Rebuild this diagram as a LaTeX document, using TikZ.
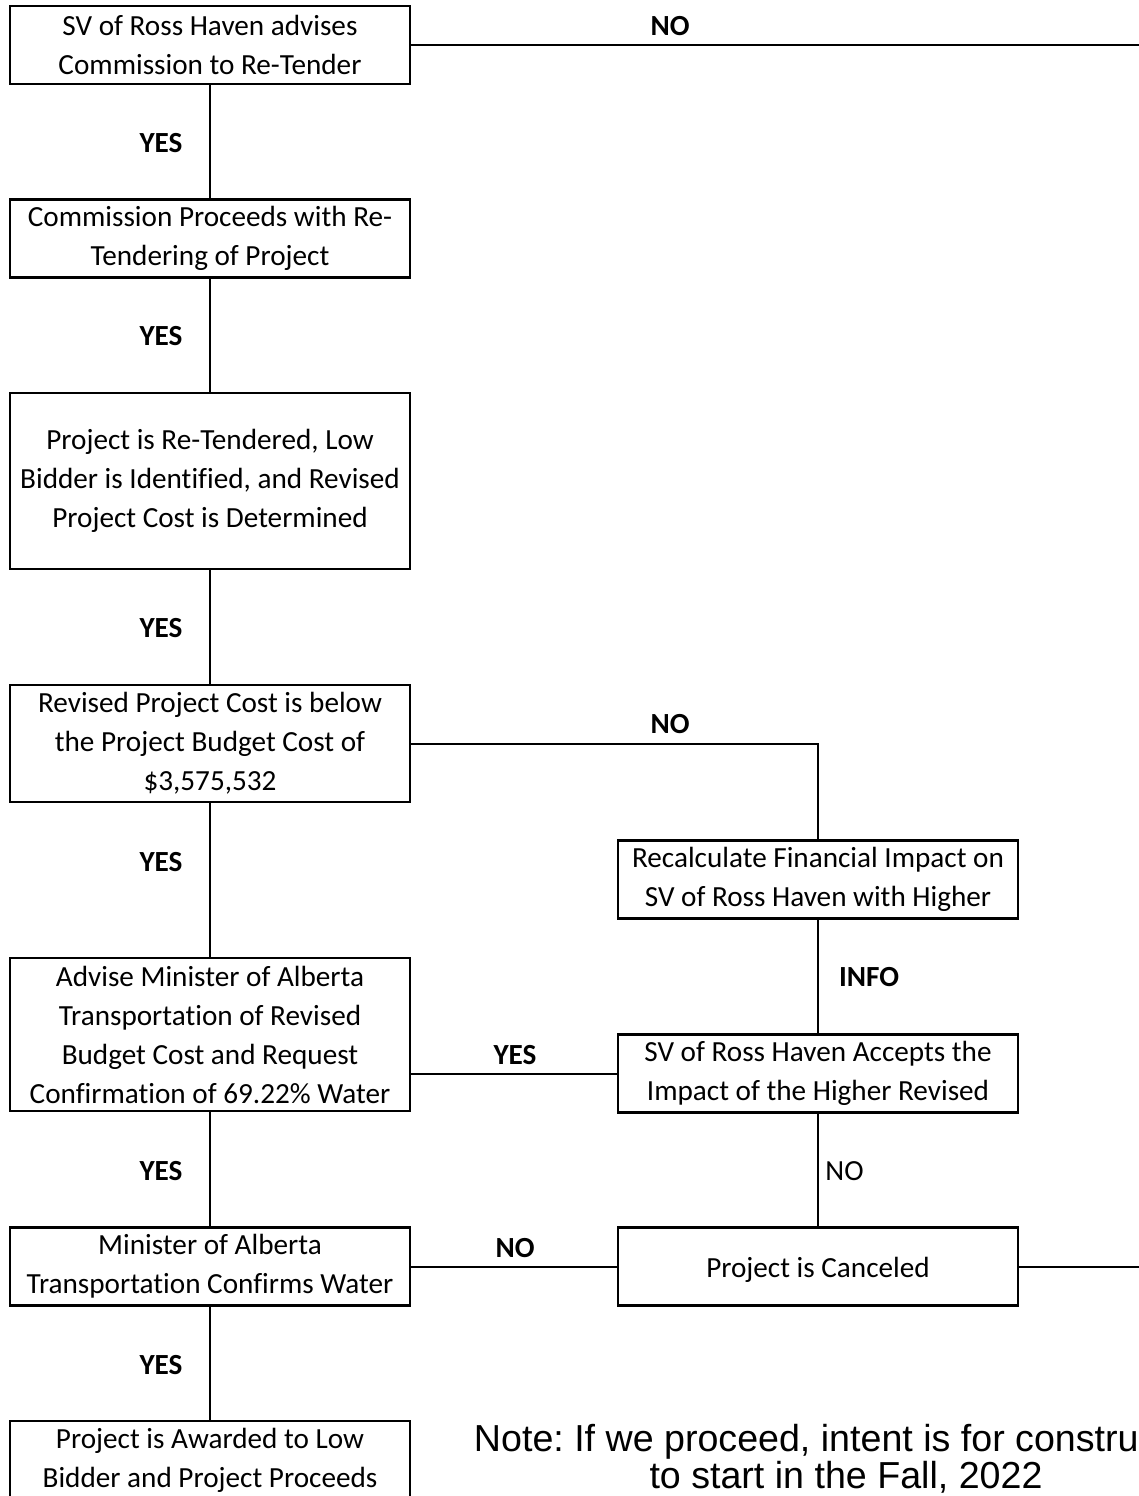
\documentclass[tikz,border=0pt]{standalone}
\usepackage{fontspec}
\setmainfont{Carlito}[Ligatures=NoCommon]
\newfontfamily\notefont{Liberation Sans}
\usetikzlibrary{positioning}
\frenchspacing

\tikzset{
  box/.style={draw, line width=1.1pt, minimum width=200pt, inner sep=0pt,
    align=center, font=\fontsize{14.6}{19.5}\selectfont,
    execute at begin node={\rule{0pt}{13pt}}},
  lbl/.style={font=\bfseries\fontsize{14.6}{19.5}\selectfont, inner sep=0pt},
  plainlbl/.style={font=\fontsize{14.6}{19.5}\selectfont, inner sep=0pt},
  link/.style={line width=1pt}
}

\begin{document}
\begin{tikzpicture}[x=0.5pt,y=-0.5pt]
  \clip (0,0) rectangle (1139,1496);

  % left column
  \node[box, minimum height=39pt] (advise) at (210,45) {SV of Ross Haven advises\\Commission to Re-Tender};
  \node[box, minimum height=39pt] (retender) at (210,238.5) {Commission Proceeds with Re-\\Tendering of Project};
  \node[box, minimum height=88pt] (bidder) at (210,481) {Project is Re-Tendered, Low\\Bidder is Identified, and Revised\\Project Cost is Determined};
  \node[box, minimum height=58.5pt] (budget) at (210,743.5) {Revised Project Cost is below\\the Project Budget Cost of\\\$3,575,532};
  \node[box, minimum height=76.5pt] (minister) at (210,1034.5) {Advise Minister of Alberta\\Transportation of Revised\\Budget Cost and Request\\Confirmation of 69.22\% Water};
  \node[box, minimum height=39pt] (confirm) at (210,1266.5) {Minister of Alberta\\Transportation Confirms Water};
  \node[box, minimum height=39pt] (awarded) at (210,1460) {Project is Awarded to Low\\Bidder and Project Proceeds};

  % right column
  \node[box, minimum height=39pt] (recalc) at (818,879.5) {Recalculate Financial Impact on\\SV of Ross Haven with Higher};
  \node[box, minimum height=39pt] (accept) at (818,1073.5) {SV of Ross Haven Accepts the\\Impact of the Higher Revised};
  \node[box, minimum height=39pt] (cancel) at (818,1266.5) {Project is Canceled};

  \coordinate (outtop) at (1160,45);
  \coordinate (outcancel) at (1160,1266.5);

  % connectors
  \draw[link] (advise.east) -- (outtop);
  \draw[link] (advise) -- (retender);
  \draw[link] (retender) -- (bidder);
  \draw[link] (bidder) -- (budget);
  \draw[link] (budget) -- (minister);
  \draw[link] (budget.east) -| (recalc.north);
  \draw[link] (recalc) -- (accept);
  \draw[link] (minister.east |- accept.west) -- (accept.west);
  \draw[link] (minister) -- (confirm);
  \draw[link] (accept) -- (cancel);
  \draw[link] (confirm) -- (cancel);
  \draw[link] (cancel.east) -- (outcancel);
  \draw[link] (confirm) -- (awarded);

  % labels
  \node[lbl] (noTop) at (670,26) {NO};
  \node[lbl] (yesA) at (161,143) {YES};
  \node[lbl] (yesB) at (161,336) {YES};
  \node[lbl] (yesC) at (161,628) {YES};
  \node[lbl] (noBudget) at (670,724) {NO};
  \node[lbl] (yesD) at (161,862) {YES};
  \node[lbl] (info) at (869,977) {INFO};
  \node[lbl] (yesE) at (515,1055) {YES};
  \node[lbl] (yesF) at (161,1171) {YES};
  \node[plainlbl, anchor=west] (noAccept) at (825,1171) {NO};
  \node[lbl] (noConfirm) at (515,1248) {NO};
  \node[lbl] (yesG) at (161,1365) {YES};

  % note
  \node[align=center, inner sep=0pt, font=\notefont\fontsize{18.8}{18.6}\selectfont] (note) at (846,1459)
    {Note: If we proceed, intent is for construction\\to start in the Fall, 2022};
\end{tikzpicture}
\end{document}
